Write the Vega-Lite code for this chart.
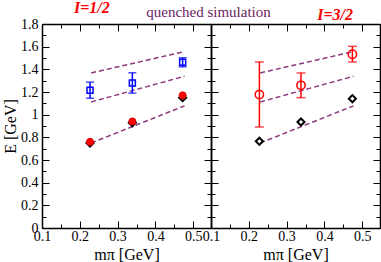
{
  "$schema": "https://vega.github.io/schema/vega-lite/v6.json",
  "padding": {"left": 2, "top": 0, "right": 0, "bottom": 0},
  "spacing": 0,
  "bounds": "flush",
  "title": {"text": "quenched simulation", "color": "#6b1d5e", "font": "Liberation Serif", "fontSize": 15, "fontWeight": "normal", "fontStyle": "normal", "anchor": "middle", "dx": 17, "offset": -20},
  "config": {
    "view": {"stroke": null},
    "axis": {"domainColor": "black", "domainWidth": 1.5, "tickColor": "black", "tickWidth": 1, "labelFont": "Liberation Serif", "labelFontSize": 14, "labelColor": "black", "titleFont": "Liberation Serif", "titleFontSize": 16, "titleFontWeight": "normal", "titleColor": "black", "grid": false, "labelOverlap": false, "labelFlush": false},
    "title": {"font": "Liberation Serif", "fontSize": 16, "fontWeight": "bold", "fontStyle": "italic", "color": "#ff0000", "offset": 1}
  },
  "datasets": {
    "lines": [
      {"line": "a", "x": 0.230, "E": 0.750},
      {"line": "a", "x": 0.477, "E": 1.078},
      {"line": "b", "x": 0.230, "E": 1.112},
      {"line": "b", "x": 0.477, "E": 1.339},
      {"line": "c", "x": 0.230, "E": 1.368},
      {"line": "c", "x": 0.477, "E": 1.557}
    ],
    "blue": [
      {"x": 0.227, "E": 1.215, "lo": 1.145, "hi": 1.287},
      {"x": 0.339, "E": 1.280, "lo": 1.190, "hi": 1.370},
      {"x": 0.472, "E": 1.462, "lo": 1.422, "hi": 1.502}
    ],
    "redL": [
      {"x": 0.227, "E": 0.760},
      {"x": 0.339, "E": 0.940},
      {"x": 0.472, "E": 1.170}
    ],
    "diaL": [
      {"x": 0.227, "E": 0.750},
      {"x": 0.339, "E": 0.928},
      {"x": 0.472, "E": 1.150}
    ],
    "redR": [
      {"x": 0.228, "E": 1.177, "lo": 0.891, "hi": 1.465},
      {"x": 0.338, "E": 1.259, "lo": 1.150, "hi": 1.368},
      {"x": 0.474, "E": 1.533, "lo": 1.465, "hi": 1.603}
    ],
    "diaR": [
      {"x": 0.228, "E": 0.765},
      {"x": 0.338, "E": 0.935},
      {"x": 0.474, "E": 1.141}
    ]
  },
  "hconcat": [
    {
      "width": 169, "height": 204,
      "title": {"text": "I=1/2", "anchor": "start", "frame": "group", "dx": 32},
      "resolve": {"axis": {"x": "independent", "y": "independent"}},
      "layer": [
        {
          "data": {"name": "lines"},
          "mark": {"type": "line", "strokeDash": [5, 3], "color": "#8a3a7c", "strokeWidth": 1.5},
          "encoding": {
            "x": {"field": "x", "type": "quantitative", "scale": {"domain": [0.1, 0.547], "nice": false, "zero": false},
                  "axis": {"orient": "bottom", "title": "mπ [GeV]", "values": [0.1, 0.15, 0.2, 0.25, 0.3, 0.35, 0.4, 0.45, 0.5],
                           "labelExpr": "abs(datum.value*10-round(datum.value*10))<0.001 ? format(datum.value, '.1f') : ''",
                           "tickSize": {"condition": {"test": "abs(datum.value*10-round(datum.value*10))<0.001", "value": -7}, "value": -4},
                           "labelPadding": 8, "titlePadding": 0}},
            "y": {"field": "E", "type": "quantitative", "scale": {"domain": [0, 1.8], "nice": false},
                  "axis": {"orient": "left", "title": "E [GeV]", "values": [0, 0.1, 0.2, 0.3, 0.4, 0.5, 0.6, 0.7, 0.8, 0.9, 1, 1.1, 1.2, 1.3, 1.4, 1.5, 1.6, 1.7, 1.8],
                           "labelExpr": "round(datum.value*10)%2==0 ? format(datum.value, '~g') : ''",
                           "tickSize": {"condition": {"test": "round(datum.value*10)%2==0", "value": -7}, "value": -4},
                           "labelPadding": 11, "titlePadding": 2}},
            "detail": {"field": "line"}
          }
        },
        {
          "data": {"name": "blue"},
          "mark": {"type": "rule", "color": "#0000ff", "strokeWidth": 1.5},
          "encoding": {
            "x": {"field": "x", "type": "quantitative",
                  "axis": {"orient": "top", "title": null, "labels": false, "values": [0.1, 0.15, 0.2, 0.25, 0.3, 0.35, 0.4, 0.45, 0.5],
                           "tickSize": {"condition": {"test": "abs(datum.value*10-round(datum.value*10))<0.001", "value": -7}, "value": -4}}},
            "y": {"field": "lo", "type": "quantitative",
                  "axis": {"orient": "right", "title": null, "labels": false, "values": [0, 0.1, 0.2, 0.3, 0.4, 0.5, 0.6, 0.7, 0.8, 0.9, 1, 1.1, 1.2, 1.3, 1.4, 1.5, 1.6, 1.7, 1.8],
                           "tickSize": {"condition": {"test": "round(datum.value*10)%2==0", "value": -7}, "value": -4}}},
            "y2": {"field": "hi"}
          }
        },
        {
          "data": {"name": "blue"},
          "mark": {"type": "tick", "orient": "horizontal", "color": "#0000ff", "size": 8, "thickness": 1.5},
          "encoding": {"x": {"field": "x", "type": "quantitative", "axis": null}, "y": {"field": "lo", "type": "quantitative", "axis": null}}
        },
        {
          "data": {"name": "blue"},
          "mark": {"type": "tick", "orient": "horizontal", "color": "#0000ff", "size": 8, "thickness": 1.5},
          "encoding": {"x": {"field": "x", "type": "quantitative", "axis": null}, "y": {"field": "hi", "type": "quantitative", "axis": null}}
        },
        {
          "data": {"name": "diaL"},
          "mark": {"type": "point", "shape": "diamond", "filled": false, "stroke": "black", "strokeWidth": 2, "size": 50, "opacity": 1},
          "encoding": {"x": {"field": "x", "type": "quantitative", "axis": null}, "y": {"field": "E", "type": "quantitative", "axis": null}}
        },
        {
          "data": {"name": "redL"},
          "mark": {"type": "point", "shape": "circle", "filled": true, "fill": "#ff0000", "stroke": "#dd0000", "strokeWidth": 1, "size": 50, "opacity": 1},
          "encoding": {"x": {"field": "x", "type": "quantitative", "axis": null}, "y": {"field": "E", "type": "quantitative", "axis": null}}
        },
        {
          "data": {"name": "blue"},
          "mark": {"type": "point", "shape": "square", "filled": false, "stroke": "#0000ff", "strokeWidth": 1.5, "size": 36, "opacity": 1},
          "encoding": {"x": {"field": "x", "type": "quantitative", "axis": null}, "y": {"field": "E", "type": "quantitative", "axis": null}}
        }
      ]
    },
    {
      "width": 169, "height": 204,
      "title": {"text": "I=3/2", "anchor": "end", "frame": "group", "dx": -27},
      "resolve": {"axis": {"x": "independent", "y": "independent"}},
      "layer": [
        {
          "data": {"name": "lines"},
          "mark": {"type": "line", "strokeDash": [5, 3], "color": "#8a3a7c", "strokeWidth": 1.5},
          "encoding": {
            "x": {"field": "x", "type": "quantitative", "scale": {"domain": [0.1, 0.547], "nice": false, "zero": false},
                  "axis": {"orient": "bottom", "title": "mπ [GeV]", "values": [0.1, 0.15, 0.2, 0.25, 0.3, 0.35, 0.4, 0.45, 0.5],
                           "labelExpr": "abs(datum.value*10-round(datum.value*10))<0.001 ? format(datum.value, '.1f') : ''",
                           "tickSize": {"condition": {"test": "abs(datum.value*10-round(datum.value*10))<0.001", "value": -7}, "value": -4},
                           "labelPadding": 8, "titlePadding": 0}},
            "y": {"field": "E", "type": "quantitative", "scale": {"domain": [0, 1.8], "nice": false},
                  "axis": {"orient": "left", "title": null, "labels": false, "values": [0, 0.1, 0.2, 0.3, 0.4, 0.5, 0.6, 0.7, 0.8, 0.9, 1, 1.1, 1.2, 1.3, 1.4, 1.5, 1.6, 1.7, 1.8],
                           "tickSize": {"condition": {"test": "round(datum.value*10)%2==0", "value": -7}, "value": -4}}},
            "detail": {"field": "line"}
          }
        },
        {
          "data": {"name": "redR"},
          "mark": {"type": "rule", "color": "#ff0000", "strokeWidth": 1.5},
          "encoding": {
            "x": {"field": "x", "type": "quantitative",
                  "axis": {"orient": "top", "title": null, "labels": false, "values": [0.1, 0.15, 0.2, 0.25, 0.3, 0.35, 0.4, 0.45, 0.5],
                           "tickSize": {"condition": {"test": "abs(datum.value*10-round(datum.value*10))<0.001", "value": -7}, "value": -4}}},
            "y": {"field": "lo", "type": "quantitative",
                  "axis": {"orient": "right", "title": null, "labels": false, "values": [0, 0.1, 0.2, 0.3, 0.4, 0.5, 0.6, 0.7, 0.8, 0.9, 1, 1.1, 1.2, 1.3, 1.4, 1.5, 1.6, 1.7, 1.8],
                           "tickSize": {"condition": {"test": "round(datum.value*10)%2==0", "value": -7}, "value": -4}}},
            "y2": {"field": "hi"}
          }
        },
        {
          "data": {"name": "redR"},
          "mark": {"type": "tick", "orient": "horizontal", "color": "#ff0000", "size": 9, "thickness": 1.5},
          "encoding": {"x": {"field": "x", "type": "quantitative", "axis": null}, "y": {"field": "lo", "type": "quantitative", "axis": null}}
        },
        {
          "data": {"name": "redR"},
          "mark": {"type": "tick", "orient": "horizontal", "color": "#ff0000", "size": 9, "thickness": 1.5},
          "encoding": {"x": {"field": "x", "type": "quantitative", "axis": null}, "y": {"field": "hi", "type": "quantitative", "axis": null}}
        },
        {
          "data": {"name": "diaR"},
          "mark": {"type": "point", "shape": "diamond", "filled": false, "stroke": "black", "strokeWidth": 2, "size": 50, "opacity": 1},
          "encoding": {"x": {"field": "x", "type": "quantitative", "axis": null}, "y": {"field": "E", "type": "quantitative", "axis": null}}
        },
        {
          "data": {"name": "redR"},
          "mark": {"type": "point", "shape": "circle", "filled": false, "stroke": "#ff0000", "strokeWidth": 1.5, "size": 70, "opacity": 1},
          "encoding": {"x": {"field": "x", "type": "quantitative", "axis": null}, "y": {"field": "E", "type": "quantitative", "axis": null}}
        }
      ]
    }
  ]
}
